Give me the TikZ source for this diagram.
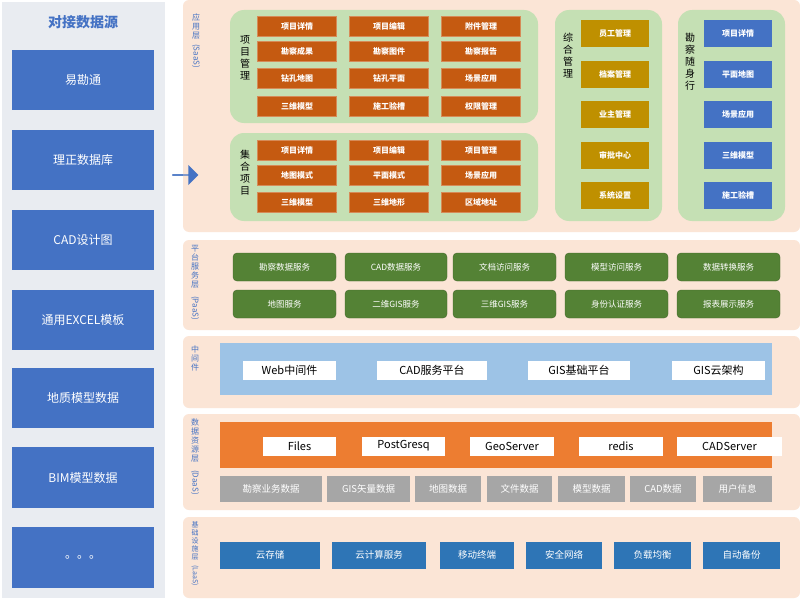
\documentclass[tikz,border=0pt]{standalone}
\usepackage{fontspec}
\usetikzlibrary{shapes.arrows}
\setmainfont{Noto Sans CJK SC}
\begin{document}
\begin{tikzpicture}[x=1pt,y=-1pt,
  bg/.style={fill=peach,draw=none,rounded corners=6pt},
  grp/.style={fill=lgreen,draw=none,rounded corners=14pt},
  ob/.style={fill=oran,draw=oran!70!white,text=white,font=\fontsize{8}{9}\selectfont\bfseries,inner sep=0pt},
  gb/.style={fill=gold,draw=none,text=white,font=\fontsize{8}{9}\selectfont\bfseries,inner sep=0pt},
  bb/.style={fill=blu,draw=none,text=white,font=\fontsize{8}{9}\selectfont\bfseries,inner sep=0pt},
  pb/.style={fill=dgreen,draw=dgreen!80!black,rounded corners=4pt,text=white,font=\fontsize{8.5}{10}\selectfont,inner sep=0pt},
  wb/.style={fill=white,draw=none,text=black,font=\fontsize{11}{12}\selectfont,inner sep=0pt},
  gr/.style={fill=gray!70,draw=none,text=white,font=\fontsize{9.5}{11}\selectfont,inner sep=0pt},
  ib/.style={fill=iblue,draw=none,text=white,font=\fontsize{9.5}{11}\selectfont,inner sep=0pt},
  lb/.style={fill=blu,draw=none,text=white,font=\fontsize{12}{14}\selectfont,inner sep=0pt},
  vl/.style={text=blu,font=\fontsize{8}{9}\selectfont,align=center,inner sep=0pt,anchor=north},
  vg/.style={text=black,font=\fontsize{10}{12}\selectfont,align=center,inner sep=0pt,anchor=north},
]
\definecolor{peach}{HTML}{FBE5D6}
\definecolor{lgreen}{HTML}{C5E0B4}
\definecolor{oran}{HTML}{C55A11}
\definecolor{gold}{HTML}{BF9000}
\definecolor{blu}{HTML}{4472C4}
\definecolor{dgreen}{HTML}{548235}
\definecolor{lblue}{HTML}{9DC3E6}
\definecolor{orng}{HTML}{ED7D31}
\definecolor{iblue}{HTML}{2E75B6}
\definecolor{lgray}{HTML}{E9ECF1}
\useasboundingbox (0,0) rectangle (800,610);
\fill[white] (0,0) rectangle (800,610);
% left panel
\fill[lgray] (2,2) rectangle (165,598);
\node[text=blu,font=\fontsize{14}{16}\selectfont\bfseries] (title) at (83,22) {对接数据源};
\foreach \t/\a/\b/\n in {易勘通/50/110/s1,理正数据库/130/190/s2,CAD设计图/210/270/s3,通用EXCEL模板/290/350/s4,地质模型数据/368/428/s5,BIM模型数据/447/508/s6,。。。/527/588/s7}
  \node[lb,minimum width=142pt,minimum height={\b-\a}] (\n) at (83,{(\a+\b)/2}) {\t};
\node[single arrow,fill=blu,minimum height=26pt,minimum width=20pt,single arrow head extend=3pt,inner sep=0pt] (arr) at (185,175) {};
% layer backgrounds
\path[bg] (183,0) rectangle (800,232);
\path[bg] (183,240) rectangle (800,330);
\path[bg] (183,336) rectangle (800,408);
\path[bg] (183,414) rectangle (800,510);
\path[bg] (183,517) rectangle (800,598);
\node[single arrow,fill=blu,minimum height=26pt,minimum width=20pt,single arrow head extend=3pt,inner sep=0pt] (arr2) at (185,175) {};
% layer labels
\node[vl] (l1) at (196,14) {应\\用\\层};
\node[vl,rotate=-90,anchor=west] (l1b) at (196,44) {(SaaS)};
\node[vl] (l2) at (195,245) {平\\台\\服\\务\\层};
\node[vl,rotate=-90,anchor=west] (l2b) at (195,296) {(PaaS)};
\node[vl] (l3) at (195,346) {中\\间\\件};
\node[vl] (l4) at (195,419) {数\\据\\资\\源\\层};
\node[vl,rotate=-90,anchor=west] (l4b) at (195,470) {(DaaS)};
\node[vl,font=\fontsize{7}{8}\selectfont] (l5) at (195,521) {基\\础\\设\\施\\层};
\node[vl,font=\fontsize{7}{8}\selectfont,rotate=-90,anchor=west] (l5b) at (195,565) {(LaaS)};
% SaaS groups
\path[grp] (230,10) rectangle (538,123);
\path[grp] (230,133) rectangle (538,221);
\path[grp] (555,10) rectangle (662,221);
\path[grp] (678,10) rectangle (785,221);
\node[vg] (g1) at (245,35) {项\\目\\管\\理};
\node[vg] (g2) at (245,150) {集\\合\\项\\目};
\node[vg] (g3) at (568,33) {综\\合\\管\\理};
\node[vg] (g4) at (690,33) {勘\\察\\随\\身\\行};
\foreach \t/\c/\r [count=\i] in {项目详情/0/16,项目编辑/1/16,附件管理/2/16,勘察成果/0/41,勘察图件/1/41,勘察报告/2/41,钻孔地图/0/68,钻孔平面/1/68,场景应用/2/68,三维模型/0/96,施工验槽/1/96,权限管理/2/96,
  项目详情/0/140,项目编辑/1/140,项目管理/2/140,地图模式/0/165,平面模式/1/165,场景应用/2/165,三维模型/0/192,三维地形/1/192,区域地址/2/192}
  \node[ob,minimum width=79pt,minimum height=20pt] (o\i) at ({297+\c*92},{\r+10}) {\t};
\foreach \t/\r [count=\i] in {员工管理/20,档案管理/61,业主管理/101,审批中心/142,系统设置/182}{
  \node[gb,minimum width=68pt,minimum height=27pt] (z\i) at (615,{\r+13.5}) {\t};}
\foreach \t/\r [count=\i] in {项目详情/20,平面地图/61,场景应用/101,三维模型/142,施工验槽/182}{
  \node[bb,minimum width=68pt,minimum height=27pt] (k\i) at (738,{\r+13.5}) {\t};}
% PaaS
\foreach \t/\a/\b/\y [count=\i] in {勘察数据服务/233/336/267,CAD数据服务/345/447/267,文档访问服务/453/556/267,模型访问服务/565/668/267,数据转换服务/677/780/267,
  地图服务/233/336/304,二维GIS服务/345/447/304,三维GIS服务/453/556/304,身份认证服务/565/668/304,报表展示服务/677/780/304}
  \node[pb,minimum width={\b-\a},minimum height=28pt] (p\i) at ({(\a+\b)/2},\y) {\t};
% middleware
\node[fill=lblue,minimum width=552pt,minimum height=52pt,inner sep=0pt] (mw) at (496,369) {};
\foreach \t/\a/\b [count=\i] in {Web中间件/243/336,CAD服务平台/377/487,GIS基础平台/528/630,GIS云架构/672/765}
  \node[wb,minimum width={\b-\a},minimum height=19pt] (m\i) at ({(\a+\b)/2},370) {\t};
% DaaS
\node[fill=orng,minimum width=552pt,minimum height=46pt,inner sep=0pt] (da) at (496,445) {};
\foreach \t/\a/\b [count=\i] in {Files/263/336,PostGresq/362/445,GeoServer/470/554,redis/579/663,CADServer/677/782}
  \node[wb,minimum width={\b-\a},minimum height=19pt] (d\i) at ({(\a+\b)/2},446) {\t};
\foreach \t/\a/\b [count=\i] in {勘察业务数据/220/322,GIS矢量数据/327/410,地图数据/415/481,文件数据/487/552,模型数据/558/625,CAD数据/630/696,用户信息/703/772}
  \node[gr,minimum width={\b-\a},minimum height=26pt] (e\i) at ({(\a+\b)/2},489) {\t};
% LaaS
\foreach \t/\a/\b [count=\i] in {云存储/220/320,云计算服务/332/426,移动终端/440/514,安全网络/526/602,负载均衡/614/691,自动备份/703/780}
  \node[ib,minimum width={\b-\a},minimum height=27pt] (i\i) at ({(\a+\b)/2},555) {\t};
\end{tikzpicture}
\end{document}
